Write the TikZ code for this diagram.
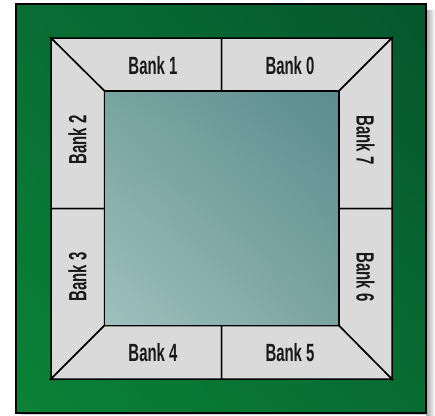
\documentclass[tikz,border=0pt]{standalone}
\usepackage{fontspec}
\usetikzlibrary{shadings}
\setmainfont[FakeStretch=0.6]{Liberation Sans}
\definecolor{gTR}{RGB}{5,86,46}
\definecolor{gBL}{RGB}{10,130,55}
\definecolor{gTL}{RGB}{8,110,52}
\definecolor{gBR}{RGB}{8,108,50}
\definecolor{tTR}{RGB}{92,140,143}
\definecolor{tBL}{RGB}{158,193,190}
\definecolor{tTL}{RGB}{120,164,160}
\definecolor{tBR}{RGB}{122,164,160}
\definecolor{bkD}{RGB}{218,218,218}
\definecolor{bkL}{RGB}{246,246,246}
\tikzset{
  hbank/.style={draw=black,line width=1.5bp,line join=miter,left color=bkD,middle color=bkL,right color=bkD},
  vbank/.style={draw=black,line width=1.5bp,line join=miter,top color=bkD,middle color=bkL,bottom color=bkD},
  lbl/.style={font=\fontsize{25}{25}\selectfont\bfseries,text=black!90,inner sep=0pt}
}
\begin{document}
\begin{tikzpicture}[x=1bp,y=-1bp]
\useasboundingbox (0,0) rectangle (435,415);
% shadow
\shade[left color=black!35,right color=white] (426,10) rectangle (435,415);
\shade[top color=black!35,bottom color=white] (22,413) rectangle (426,415);
% green board
\shade[upper left=gTL,upper right=gTR,lower left=gBL,lower right=gBR] (16,4) rectangle (426,413);
\draw[line width=1.8bp] (16,4) rectangle (426,413);
% banks
\path[hbank] (51,38) -- (221.5,38) -- (221.5,91) -- (104.5,91) -- cycle;
\path[hbank] (221.5,38) -- (392,38) -- (339,91) -- (221.5,91) -- cycle;
\path[vbank] (51,38) -- (104.5,91) -- (104.5,208.5) -- (51,208.5) -- cycle;
\path[vbank] (51,208.5) -- (104.5,208.5) -- (104.5,325.5) -- (51,379) -- cycle;
\path[hbank] (51,379) -- (104.5,325.5) -- (221.5,325.5) -- (221.5,379) -- cycle;
\path[hbank] (221.5,325.5) -- (339,325.5) -- (392,379) -- (221.5,379) -- cycle;
\path[vbank] (392,38) -- (392,208.5) -- (339,208.5) -- (339,91) -- cycle;
\path[vbank] (339,208.5) -- (392,208.5) -- (392,379) -- (339,325.5) -- cycle;
% core
\shade[upper left=tTL,upper right=tTR,lower left=tBL,lower right=tBR] (104.5,91) rectangle (339,325.5);
\draw[line width=1.5bp] (104.5,91) rectangle (339,325.5);
% labels
\node[lbl] (b1) at (153,66) {Bank 1};
\node[lbl] (b0) at (290,66) {Bank 0};
\node[lbl,rotate=90] (b2) at (77.5,140) {Bank 2};
\node[lbl,rotate=90] (b3) at (77.5,277) {Bank 3};
\node[lbl,rotate=-90] (b7) at (365.5,140) {Bank 7};
\node[lbl,rotate=-90] (b6) at (365.5,277) {Bank 6};
\node[lbl] (b4) at (153,353) {Bank 4};
\node[lbl] (b5) at (290,353) {Bank 5};
\end{tikzpicture}
\end{document}
